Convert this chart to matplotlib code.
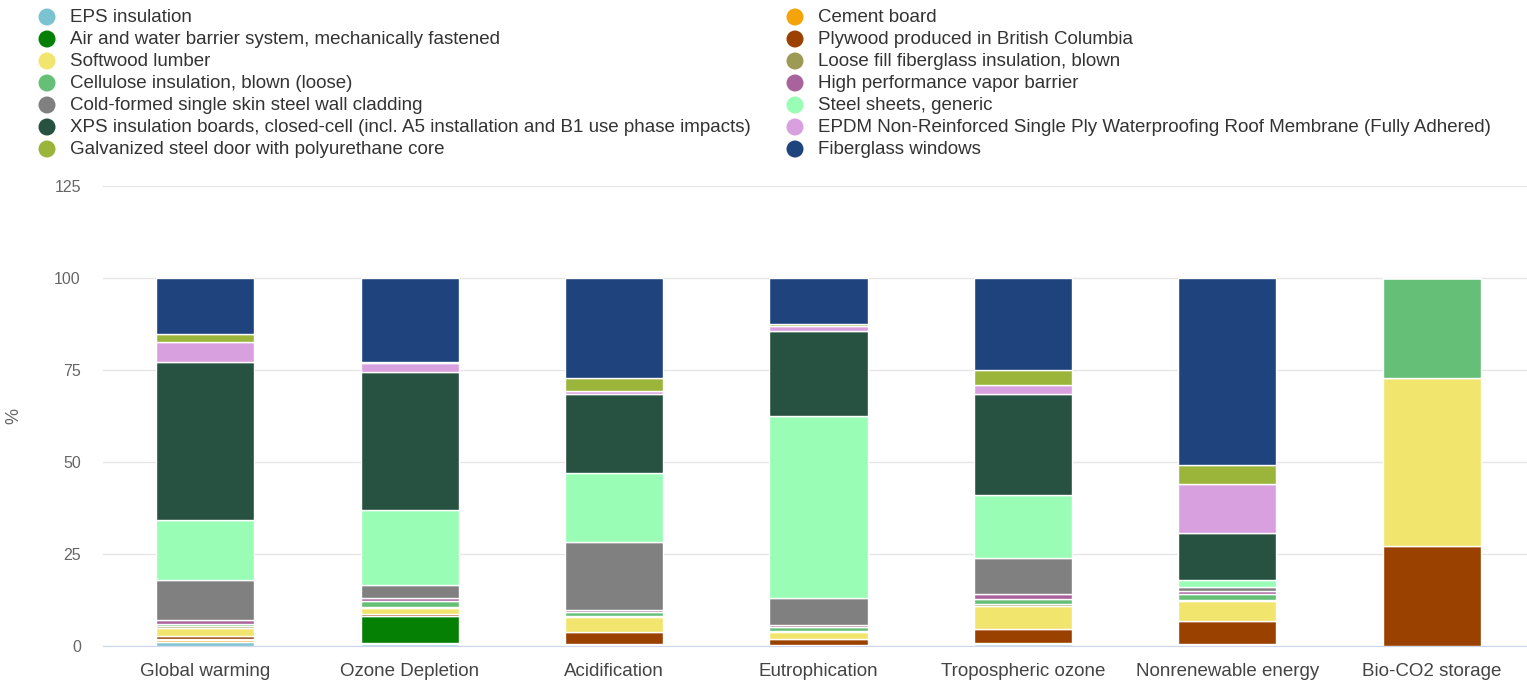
import matplotlib
matplotlib.use("Agg")
import matplotlib.pyplot as plt
import numpy as np

plt.rcParams['font.family'] = ['Liberation Sans', 'DejaVu Sans']

categories = ["Global warming", "Ozone Depletion", "Acidification", "Eutrophication",
              "Tropospheric ozone", "Nonrenewable energy", "Bio-CO2 storage"]

materials = [
    "EPS insulation",
    "Cement board",
    "Air and water barrier system, mechanically fastened",
    "Plywood produced in British Columbia",
    "Softwood lumber",
    "Loose fill fiberglass insulation, blown",
    "Cellulose insulation, blown (loose)",
    "High performance vapor barrier",
    "Cold-formed single skin steel wall cladding",
    "Steel sheets, generic",
    "XPS insulation boards, closed-cell (incl. A5 installation and B1 use phase impacts)",
    "EPDM Non-Reinforced Single Ply Waterproofing Roof Membrane (Fully Adhered)",
    "Galvanized steel door with polyurethane core",
    "Fiberglass windows",
]

colors = ["#7cc3d1", "#f5a30a", "#058005", "#9a4100", "#f2e56e", "#9c9a55", "#66bf77",
          "#a8639c", "#808080", "#99fdb5", "#275140", "#d9a0e0", "#9bb53b", "#1f447d"]

# share of each material per impact category (%)
eps_insulation   = [1.2, 0.6, 0.3, 0.2, 0.5, 0.2, 0.0]
cement_board     = [0.3, 0.2, 0.1, 0.1, 0.1, 0.1, 0.0]
air_barrier      = [0.4, 7.4, 0.2, 0.1, 0.1, 0.2, 0.0]
plywood_bc       = [0.8, 0.6, 3.3, 1.6, 3.9, 6.3, 27.2]
softwood_lumber  = [2.1, 1.4, 3.9, 1.9, 6.4, 5.3, 45.6]
loose_fill_glass = [0.5, 0.5, 0.3, 0.3, 0.5, 0.5, 0.0]
cellulose        = [0.8, 1.5, 1.2, 0.9, 1.3, 1.6, 27.2]
vapor_barrier    = [1.1, 0.8, 0.4, 0.6, 1.4, 0.8, 0.0]
steel_cladding   = [10.8, 3.6, 18.6, 7.4, 9.6, 1.0, 0.0]
steel_sheets     = [16.2, 20.4, 18.7, 49.4, 17.2, 2.0, 0.0]
xps_insulation   = [43.0, 37.5, 21.4, 23.0, 27.5, 12.7, 0.0]
epdm_membrane    = [5.4, 2.5, 1.0, 1.5, 2.5, 13.3, 0.0]
steel_door       = [2.2, 0.2, 3.4, 0.5, 4.0, 5.2, 0.0]
fiberglass_win   = [15.2, 22.8, 27.2, 12.5, 25.0, 50.8, 0.0]

series = [eps_insulation, cement_board, air_barrier, plywood_bc, softwood_lumber,
          loose_fill_glass, cellulose, vapor_barrier, steel_cladding, steel_sheets,
          xps_insulation, epdm_membrane, steel_door, fiberglass_win]

y_ticks = [0, 25, 50, 75, 100, 125]

W, H = 1527, 683
fig = plt.figure(figsize=(W / 100, H / 100), dpi=100)

# plot area in pixel terms
left_px, right_px = 103, 1534
y0_px, ytop_px = 646, 186
ax = fig.add_axes([left_px / W, 1 - y0_px / H, (right_px - left_px) / W, (y0_px - ytop_px) / H])

x = np.arange(len(categories))
bottom = np.zeros(len(categories))
for vals, col in zip(series, colors):
    v = np.array(vals)
    ax.bar(x, v, bottom=bottom, width=0.48, color=col, edgecolor="white", linewidth=1.0, zorder=3)
    bottom += v

ax.set_xlim(-0.5, len(categories) - 0.5)
ax.set_ylim(0, 125)
ax.set_yticks(y_ticks)
ax.set_yticklabels([str(t) for t in y_ticks], color="#666666", fontsize=11.5)
ax.set_xticks(x)
ax.set_xticklabels(categories, color="#444444", fontsize=13.5)
ax.tick_params(axis="y", length=0, pad=16)
ax.tick_params(axis="x", length=0, pad=12)
ax.grid(axis="y", color="#e6e6e6", linewidth=1, zorder=0)
for side in ["top", "right", "left"]:
    ax.spines[side].set_visible(False)
ax.spines["bottom"].set_color("#ccd6eb")
ax.set_ylabel("%", color="#666666", fontsize=13)
ax.yaxis.set_label_coords((22 - left_px) / (right_px - left_px), 0.5)

# legend in two columns, filled row by row
leg = fig.add_axes([0, 0, 1, 1])
leg.set_xlim(0, W)
leg.set_ylim(H, 0)
leg.axis("off")
col_x = [47, 795]
row_y0, row_dy = 17, 22
for i, (name, col) in enumerate(zip(materials, colors)):
    cx = col_x[i % 2]
    cy = row_y0 + (i // 2) * row_dy
    leg.scatter([cx], [cy], s=150, color=col, edgecolors="none")
    leg.text(cx + 23, cy, name, va="center", ha="left", fontsize=13.5, color="#333333")

fig.savefig("out.png", dpi=100)
